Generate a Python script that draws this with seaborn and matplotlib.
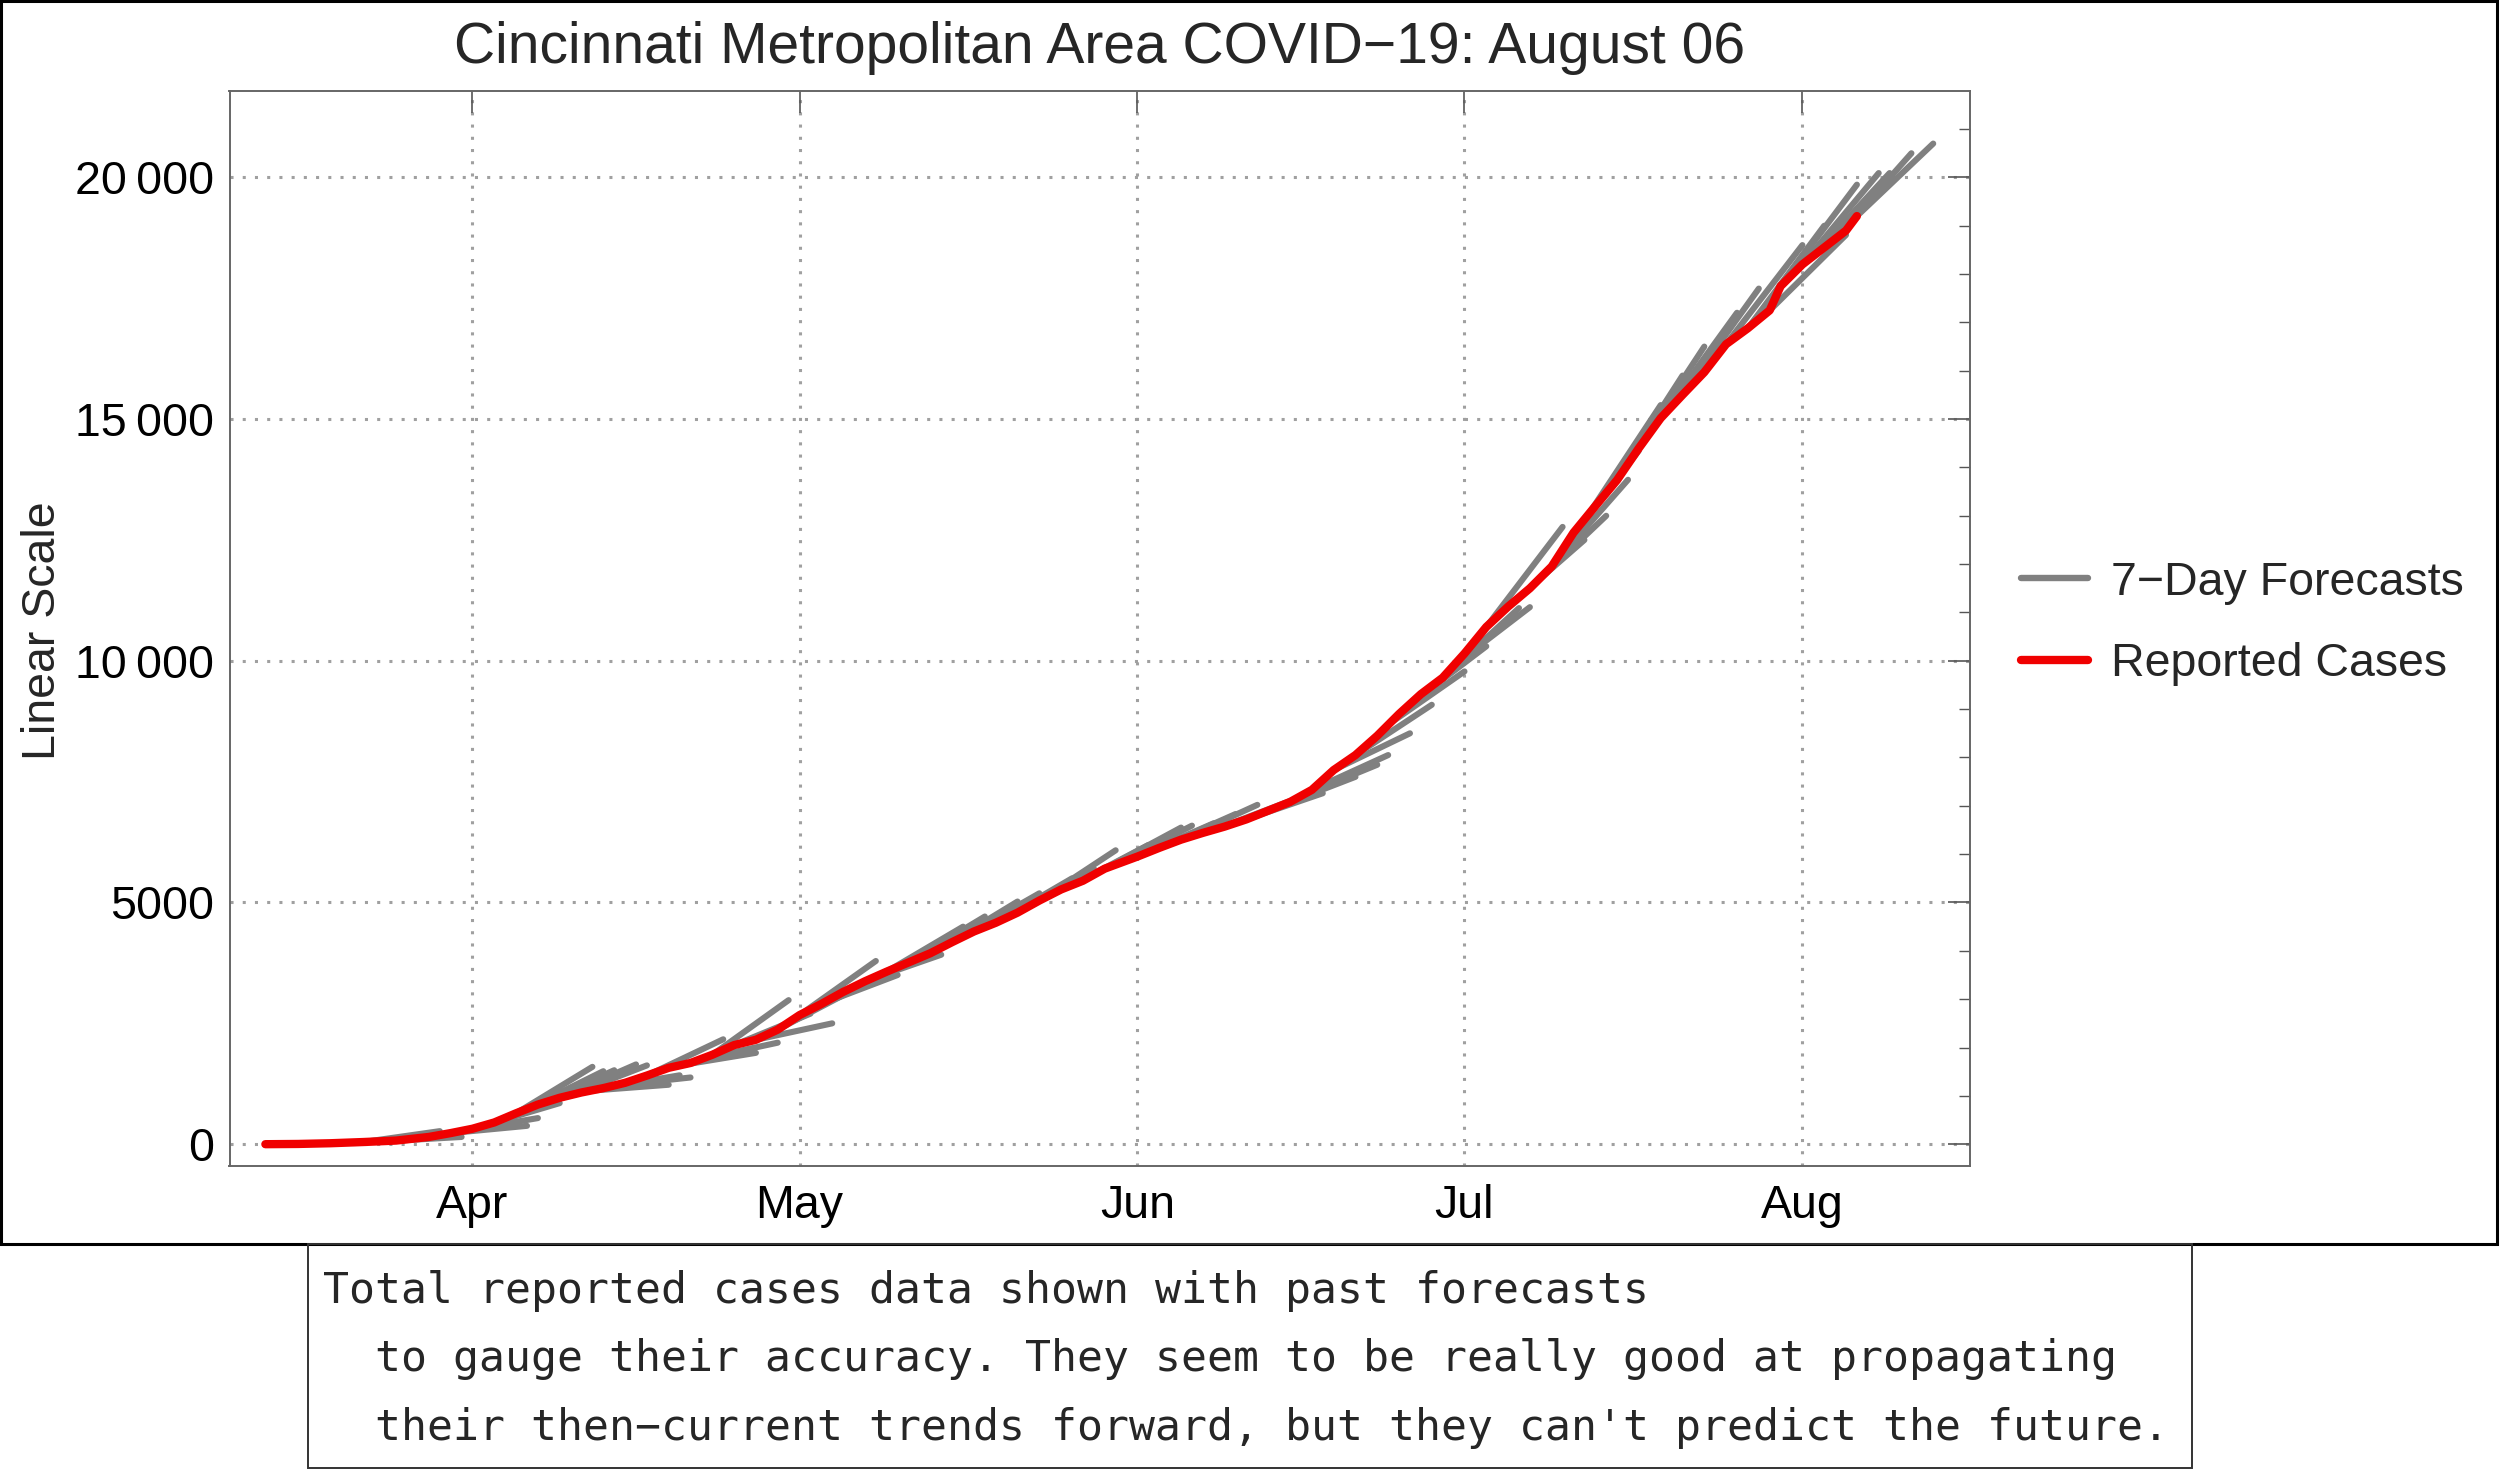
import pandas as pd
import numpy as np
import matplotlib
matplotlib.use('Agg')
import matplotlib.pyplot as plt
import matplotlib.dates as mdates
from matplotlib.lines import Line2D
from matplotlib.patches import Rectangle
from matplotlib.ticker import FuncFormatter, MultipleLocator
import seaborn as sns

# Reported cumulative cases (red line)
case_dates = ['2020-03-13', '2020-03-16', '2020-03-19', '2020-03-22', '2020-03-25', '2020-03-28',
              '2020-03-30', '2020-04-01', '2020-04-03', '2020-04-05', '2020-04-07', '2020-04-09',
              '2020-04-11', '2020-04-13', '2020-04-15', '2020-04-17', '2020-04-19', '2020-04-21',
              '2020-04-23', '2020-04-25', '2020-04-27', '2020-04-29', '2020-05-01', '2020-05-03',
              '2020-05-05', '2020-05-07', '2020-05-09', '2020-05-11', '2020-05-13', '2020-05-15',
              '2020-05-17', '2020-05-19', '2020-05-21', '2020-05-23', '2020-05-25', '2020-05-27',
              '2020-05-29', '2020-06-01', '2020-06-03', '2020-06-05', '2020-06-07', '2020-06-09',
              '2020-06-11', '2020-06-13', '2020-06-15', '2020-06-17', '2020-06-19', '2020-06-21',
              '2020-06-23', '2020-06-25', '2020-06-27', '2020-06-29', '2020-07-01', '2020-07-03',
              '2020-07-05', '2020-07-07', '2020-07-09', '2020-07-11', '2020-07-13', '2020-07-15',
              '2020-07-17', '2020-07-19', '2020-07-21', '2020-07-23', '2020-07-25', '2020-07-27',
              '2020-07-29', '2020-07-30', '2020-08-01', '2020-08-03', '2020-08-05', '2020-08-06']
case_values = [0, 5, 20, 45, 75, 150,
               230, 320, 450, 640, 820, 960,
               1070, 1160, 1270, 1420, 1580, 1680,
               1850, 2050, 2160, 2370, 2670, 2900,
               3150, 3370, 3570, 3760, 3950, 4180,
               4400, 4580, 4790, 5040, 5270, 5450,
               5700, 5950, 6130, 6300, 6440, 6570,
               6720, 6900, 7080, 7330, 7740, 8050,
               8450, 8900, 9310, 9650, 10150, 10700,
               11120, 11500, 11950, 12650, 13200, 13740,
               14400, 15020, 15500, 15970, 16550, 16880,
               17250, 17750, 18200, 18550, 18900, 19200]

# 7-day forecasts (gray lines): issue date, value on that day, value 7 days later
fc_dates = ['2020-03-22', '2020-03-24', '2020-03-26', '2020-03-28', '2020-03-30', '2020-03-31',
            '2020-04-02', '2020-04-04', '2020-04-05', '2020-04-06', '2020-04-07', '2020-04-09',
            '2020-04-10', '2020-04-12', '2020-04-13', '2020-04-14', '2020-04-17', '2020-04-20',
            '2020-04-22', '2020-04-23', '2020-04-25', '2020-04-27', '2020-04-29', '2020-05-01',
            '2020-05-03', '2020-05-05', '2020-05-07', '2020-05-09', '2020-05-11', '2020-05-14',
            '2020-05-16', '2020-05-19', '2020-05-21', '2020-05-23', '2020-05-26', '2020-05-29',
            '2020-05-30', '2020-06-01', '2020-06-03', '2020-06-05', '2020-06-08', '2020-06-11',
            '2020-06-14', '2020-06-16', '2020-06-17', '2020-06-19', '2020-06-21', '2020-06-24',
            '2020-06-26', '2020-06-29', '2020-06-30', '2020-07-03', '2020-07-05', '2020-07-07',
            '2020-07-09', '2020-07-10', '2020-07-12', '2020-07-14', '2020-07-16', '2020-07-19',
            '2020-07-21', '2020-07-25', '2020-07-27', '2020-07-29', '2020-07-30', '2020-08-01',
            '2020-08-02', '2020-08-04', '2020-08-06']
fc_start = [45, 60, 100, 150, 230, 270,
            380, 540, 640, 730, 820, 960,
            1020, 1110, 1160, 1210, 1420, 1630,
            1760, 1850, 2050, 2160, 2370, 2670,
            2900, 3150, 3370, 3570, 3760, 4060,
            4290, 4580, 4790, 5040, 5360, 5700,
            5790, 5950, 6130, 6300, 6500, 6720,
            6990, 7200, 7330, 7740, 8050, 8680,
            9100, 9650, 9900, 10700, 11120, 11500,
            11950, 12300, 12900, 13450, 14100, 15020,
            15500, 16550, 16880, 17250, 17750, 18200,
            18380, 18720, 19200]
fc_end = [270, 150, 330, 420, 380, 540,
          850, 1230, 1600, 1510, 1530, 1650,
          1630, 1230, 1425, 1380, 2170, 1890,
          2100, 2980, 2700, 2500, 3200, 3790,
          3500, 3900, 3920, 4500, 4710, 5020,
          5190, 5500, 5700, 6080, 6190, 6550,
          6590, 6640, 6830, 7020, 7100, 7260,
          7600, 7850, 8050, 8500, 9090, 9780,
          10300, 11090, 11110, 12770, 12500, 13000,
          13745, 14350, 15290, 15900, 16500, 17200,
          17700, 18600, 19000, 18810, 19850, 20090,
          20090, 20500, 20700]

title = 'Cincinnati Metropolitan Area COVID\u221219: August 06'
legend_labels = ['7\u2212Day Forecasts', 'Reported Cases']
caption_lines = ['Total reported cases data shown with past forecasts',
                 "  to gauge their accuracy. They seem to be really good at propagating",
                 "  their then\u2212current trends forward, but they can't predict the future."]

GRAY = '#808080'
RED = '#f00000'

sns.set_style('white')
plt.rcParams['font.family'] = ['Liberation Sans', 'DejaVu Sans']

# Build long table of forecast segments
fc_rows = []
for i, (d, v0, v1) in enumerate(zip(fc_dates, fc_start, fc_end)):
    d0 = pd.Timestamp(d)
    fc_rows.append({'fid': i, 'date': d0, 'value': v0})
    fc_rows.append({'fid': i, 'date': d0 + pd.Timedelta(days=7), 'value': v1})
fc_df = pd.DataFrame(fc_rows)
cases_df = pd.DataFrame({'date': pd.to_datetime(case_dates), 'value': case_values})

fig = plt.figure(figsize=(25, 14.69), dpi=100)
ax = fig.add_axes([0.0918, 0.2063, 0.6962, 0.7315])

sns.lineplot(data=fc_df, x='date', y='value', units='fid', estimator=None,
             color=GRAY, linewidth=4.4, ax=ax, legend=False)
sns.lineplot(data=cases_df, x='date', y='value', color=RED, linewidth=6.0,
             ax=ax, legend=False)

ax.set_xlim(pd.Timestamp('2020-03-09 17:00'), pd.Timestamp('2020-08-16 09:00'))
ax.set_ylim(-450, 21780)
ax.set_xlabel('')
ax.set_ylabel('')

ax.xaxis.set_major_locator(mdates.MonthLocator())
ax.xaxis.set_major_formatter(mdates.DateFormatter('%b'))
ax.yaxis.set_major_locator(MultipleLocator(5000))
ax.yaxis.set_minor_locator(MultipleLocator(1000))
ax.yaxis.set_major_formatter(FuncFormatter(
    lambda v, p: f'{int(v):,}'.replace(',', '\u2009') if v >= 10000 else f'{int(v)}'))

ax.tick_params(axis='both', which='both', direction='in', colors='#555555',
               labelcolor='black', labelsize=33.5, top=True, right=True)
ax.tick_params(axis='both', which='major', length=16, width=1.2)
ax.tick_params(axis='y', which='minor', length=8, width=1.0)
ax.tick_params(axis='y', which='major', pad=11)
ax.tick_params(axis='x', which='major', pad=13)

ax.grid(True, which='major', linestyle=(0, (1, 3)), color='#a0a0a0', linewidth=2.2)
for s in ax.spines.values():
    s.set_color('#666666')
    s.set_linewidth(1.4)

handles = [Line2D([], [], color=GRAY, linewidth=4.6),
           Line2D([], [], color=RED, linewidth=6.0)]
ax.legend(handles, legend_labels, loc='center left', bbox_to_anchor=(1.0293, 0.505),
          frameon=False, fontsize=33.5, handlelength=1.43, handletextpad=0.5,
          labelspacing=0.8, borderpad=0, borderaxespad=0)

fig.text(0.44, 0.967, title, ha='center', va='center', fontsize=41)
fig.text(0.0172, 0.571, 'Linear Scale', rotation=90, ha='center', va='center', fontsize=33.5)

# Outer frame around the chart, and caption box underneath
fig.patches.append(Rectangle((0.0006, 0.1532), 0.9982, 0.8462, transform=fig.transFigure,
                             fill=False, edgecolor='black', linewidth=2.2))
fig.patches.append(Rectangle((0.1232, 0.0007), 0.7536, 0.1525, transform=fig.transFigure,
                             fill=False, edgecolor='#333333', linewidth=1.4))
caption_y = [0.1212, 0.0746, 0.028]
for i, line in enumerate(caption_lines):
    fig.text(0.1294, caption_y[i], line, ha='left', va='center',
             fontsize=31.1, family=['DejaVu Sans Mono'])

fig.savefig('out.png', dpi=100)
